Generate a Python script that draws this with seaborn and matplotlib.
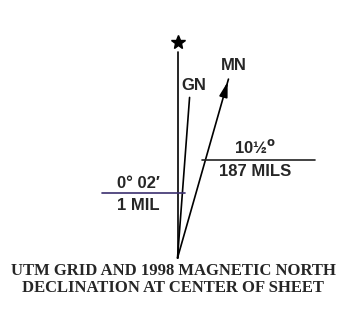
import numpy as np
import pandas as pd
import matplotlib
matplotlib.use("Agg")
import matplotlib.pyplot as plt
import seaborn as sns

# diagram values (drawing angles are exaggerated, as on the map sheet)
names = ["GN", "MN"]
draw_angles = [4.3, 15.9]        # degrees east of true north, as drawn
draw_lengths = [161, 186]        # length of each line in the drawing
true_len = 206
labels_deg = ["0\u00b0 02\u2032", "10\u00bd$^{\\mathbf{o}}$"]
labels_mil = ["1 MIL", "187 MILS"]
title_lines = ["UTM GRID AND 1998 MAGNETIC NORTH", "DECLINATION AT CENTER OF SHEET"]

apex = (177.5, 258)

sns.set_style("white")
fig = plt.figure(figsize=(3.44, 3.12), dpi=100)
ax = fig.add_axes([0, 0, 1, 1])
ax.set_xlim(0, 344)
ax.set_ylim(312, 0)
ax.axis("off")

# true north line with star
tn = pd.DataFrame({"x": [apex[0], apex[0]], "y": [apex[1], apex[1] - true_len]})
sns.lineplot(data=tn, x="x", y="y", color="black", lw=1.2, sort=False,
             estimator=None, ax=ax)
ax.plot(apex[0], apex[1] - true_len - 10, marker="*", ms=10, color="black")

ends = []
for n, a, L in zip(names, draw_angles, draw_lengths):
    r = np.radians(a)
    ex, ey = apex[0] + L * np.sin(r), apex[1] - L * np.cos(r)
    ends.append((ex, ey))
    d = pd.DataFrame({"x": [apex[0], ex], "y": [apex[1], ey]})
    sns.lineplot(data=d, x="x", y="y", color="black", lw=1.2, sort=False,
                 estimator=None, ax=ax)

# arrow head on MN
mx, my = ends[1]
r = np.radians(draw_angles[1])
ax.annotate("", xy=(mx, my), xytext=(mx - 16 * np.sin(r), my + 16 * np.cos(r)),
            arrowprops=dict(arrowstyle="-|>,head_length=0.9,head_width=0.25",
                            color="black", lw=1.2))

sans = dict(fontsize=12, fontweight="bold", family="Liberation Sans", ha="center", va="center")
ax.text(ends[0][0] + 4, ends[0][1] - 12, names[0], **sans)
ax.text(mx + 5, my - 14, names[1], **sans)

# declination value bars
ax.plot([102, 185], [193, 193], color="#3b2f6e", lw=1.2)
ax.text(138, 183, labels_deg[0], **sans)
ax.text(138, 205, labels_mil[0], **sans)

ax.plot([202, 315], [160, 160], color="#222222", lw=1.2)
ax.text(255, 147, labels_deg[1], **sans)
ax.text(255, 172, labels_mil[1], **sans)

serif = dict(fontsize=12, fontweight="bold", family="Liberation Serif", ha="center", va="center")
ax.text(173, 271, title_lines[0], **serif)
ax.text(173, 288, title_lines[1], **serif)

fig.savefig("out.png", dpi=100)
